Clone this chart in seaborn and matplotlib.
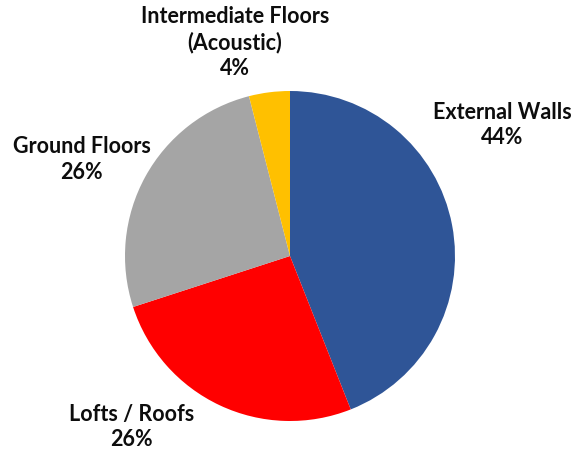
import matplotlib
matplotlib.use("Agg")
import matplotlib.pyplot as plt
import seaborn as sns

sns.set_theme(style="white")
plt.rcParams['font.family'] = ['Lato', 'DejaVu Sans']

categories = ["External Walls", "Lofts / Roofs", "Ground Floors", "Intermediate Floors\n(Acoustic)"]
values = [44, 26, 26, 4]
colors = ["#2F5597", "#FF0000", "#A5A5A5", "#FFC000"]
# label anchor positions (in pie-radius units)
label_pos = [(1.285, 0.80), (-0.958, -1.03), (-1.261, 0.59), (-0.333, 1.30)]

fig = plt.figure(figsize=(5.74, 4.52), dpi=100)
ax = fig.add_axes([0, 0, 1, 1])
ax.pie(values, colors=colors, startangle=90, counterclock=False,
       radius=1.0, wedgeprops=dict(linewidth=0))
for cat, v, (x, y) in zip(categories, values, label_pos):
    ax.text(x, y, f"{cat}\n{v}%", ha="center", va="center", fontsize=15.5,
            fontweight="bold", color="#0D0D0D", linespacing=1.28)
ax.set_xlim(-290 / 165, (574 - 290) / 165)
ax.set_ylim(-(452 - 257) / 165, 257 / 165)
ax.set_aspect("equal")
ax.axis("off")
fig.savefig("out.png", dpi=100)
